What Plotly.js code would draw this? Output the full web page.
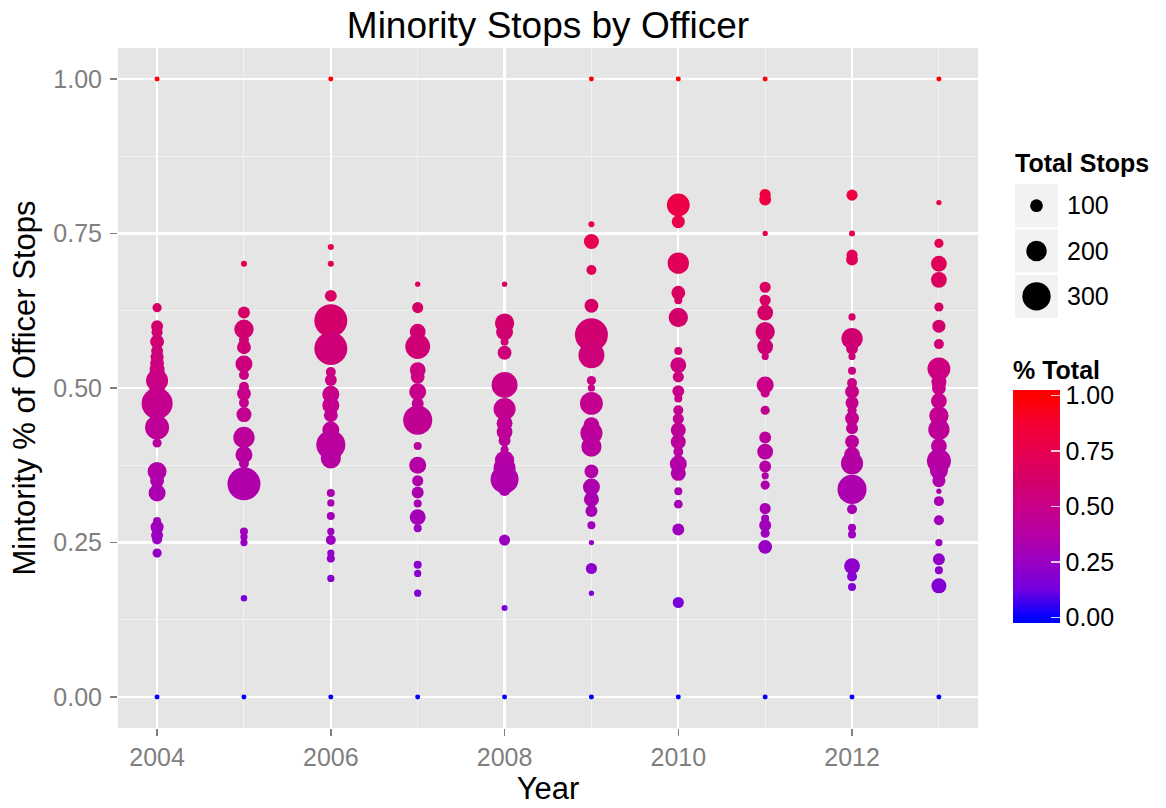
<!DOCTYPE html>
<html>
<head>
<meta charset="utf-8">
<script src="https://cdn.plot.ly/plotly-3.0.1.min.js"></script>
<style>html,body{margin:0;padding:0;background:#fff;}#chart{width:1166px;height:808px;}</style>
</head>
<body>
<div id="chart"></div>
<script>
// ---- data ----
const years = [2004, 2005, 2006, 2007, 2008, 2009, 2010, 2011, 2012, 2013];

const pct2004 = [1.00,0.630,0.600,0.590,0.575,0.560,0.550,0.540,0.530,0.520,0.512,0.500,0.490,0.475,0.460,0.436,0.411,0.365,0.350,0.330,0.285,0.275,0.262,0.255,0.233,0.00];
const stops2004 = [1,55,90,80,115,90,105,115,130,155,220,115,170,335,130,245,55,180,115,155,40,105,90,65,55,1];

const pct2005 = [0.701,0.622,0.595,0.578,0.566,0.539,0.521,0.502,0.491,0.476,0.457,0.420,0.392,0.378,0.345,0.268,0.259,0.250,0.160,0.00];
const stops2005 = [15,90,185,65,115,155,65,65,115,65,130,210,155,65,360,40,30,30,20,1];

const pct2006 = [1.00,0.728,0.701,0.649,0.609,0.564,0.526,0.513,0.490,0.472,0.456,0.432,0.408,0.386,0.330,0.314,0.293,0.268,0.254,0.233,0.224,0.192,0.00];
const stops2006 = [1,15,15,90,360,360,65,90,155,155,115,155,310,195,40,30,40,30,65,30,40,30,1];

const pct2007 = [0.668,0.630,0.591,0.567,0.529,0.518,0.494,0.475,0.448,0.406,0.375,0.350,0.331,0.313,0.291,0.273,0.214,0.200,0.168,0.00];
const stops2007 = [5,80,140,255,140,115,155,90,310,40,155,80,90,40,140,40,40,30,30,1];

const pct2008 = [0.668,0.605,0.591,0.575,0.557,0.505,0.466,0.443,0.429,0.415,0.400,0.383,0.370,0.352,0.335,0.254,0.144,0.00];
const stops2008 = [5,185,155,40,115,270,220,140,140,90,40,185,220,295,90,80,15,1];

const pct2009 = [1.00,0.765,0.737,0.691,0.633,0.586,0.553,0.512,0.500,0.475,0.440,0.427,0.405,0.365,0.340,0.320,0.301,0.278,0.250,0.208,0.168,0.00];
const stops2009 = [1,15,130,65,115,360,270,55,30,230,140,220,195,115,155,130,90,40,5,80,5,1];

const pct2010 = [1.00,0.796,0.769,0.702,0.654,0.642,0.614,0.560,0.537,0.518,0.495,0.483,0.464,0.450,0.432,0.413,0.397,0.377,0.362,0.333,0.312,0.271,0.153,0.00];
const stops2010 = [1,230,105,210,115,40,185,40,140,80,90,40,65,80,130,130,65,155,130,40,50,90,80,1];

const pct2011 = [1.00,0.813,0.805,0.750,0.663,0.642,0.622,0.591,0.567,0.551,0.505,0.492,0.464,0.420,0.397,0.373,0.358,0.343,0.305,0.289,0.278,0.265,0.243,0.00];
const stops2011 = [1,80,90,5,80,80,140,185,140,30,155,55,55,90,140,90,30,55,80,40,90,55,115,1];

const pct2012 = [0.812,0.750,0.715,0.708,0.615,0.580,0.564,0.551,0.528,0.508,0.494,0.476,0.464,0.451,0.435,0.413,0.392,0.378,0.336,0.304,0.274,0.263,0.212,0.195,0.178,0.00];
const stops2012 = [80,15,80,90,30,210,90,30,40,65,115,105,55,115,90,115,140,220,310,65,40,40,140,65,40,1];

const pct2013 = [1.00,0.800,0.734,0.701,0.675,0.631,0.600,0.571,0.531,0.510,0.500,0.479,0.455,0.433,0.406,0.382,0.367,0.350,0.333,0.317,0.286,0.250,0.223,0.205,0.180,0.00];
const stops2013 = [1,5,55,140,140,55,105,65,230,130,115,140,185,210,140,245,170,105,5,65,65,30,90,40,130,1];

const xTickVals = [2004, 2006, 2008, 2010, 2012];
const xTickText = ['2004', '2006', '2008', '2010', '2012'];
const yTickVals = [0, 0.25, 0.5, 0.75, 1];
const yTickText = ['0.00', '0.25', '0.50', '0.75', '1.00'];
const sizeLegendVals = [100, 200, 300];
const sizeLegendText = ['100', '200', '300'];

// ---- build ----
const pctByYear = [pct2004,pct2005,pct2006,pct2007,pct2008,pct2009,pct2010,pct2011,pct2012,pct2013];
const stopsByYear = [stops2004,stops2005,stops2006,stops2007,stops2008,stops2009,stops2010,stops2011,stops2012,stops2013];

function sizeOf(s) { return 4.9 + 0.078 * s; } // linear diameter scale

const X = [], Y = [], S = [];
years.forEach((yr, i) => {
  pctByYear[i].forEach((p, j) => {
    X.push(yr); Y.push(p); S.push(sizeOf(stopsByYear[i][j]));
  });
});

const cmin = -0.025, cmax = 1.025;
const gradStops = [[0,'#0000FF'],[0.125,'#7200E0'],[0.25,'#9A00C2'],[0.375,'#B500A5'],[0.5,'#C90088'],[0.625,'#D40067'],[0.75,'#E80050'],[0.875,'#F40031'],[1,'#FF0000']];
const colorscale = [[0,'#0000FF']].concat(gradStops.map(g => [(g[0]-cmin)/(cmax-cmin), g[1]])).concat([[1,'#FF0000']]);

const W = 1166, H = 808;
const ml = 118, mr = 6, mt = 48, mb = 80;
const pw = W - ml - mr, ph = H - mt - mb;
const px = v => (v - ml) / pw;
const py = v => (H - mb - v) / ph;

const FONT = 'Liberation Sans, Arial, Helvetica, sans-serif';

const main = {
  type: 'scatter', mode: 'markers', x: X, y: Y,
  xaxis: 'x', yaxis: 'y',
  marker: {
    size: S, sizemode: 'diameter', color: Y, colorscale: colorscale,
    cmin: cmin, cmax: cmax, opacity: 1, line: {width: 0},
    colorbar: {
      x: px(1013), xanchor: 'left', xpad: 0,
      y: py(623), yanchor: 'bottom', ypad: 0,
      len: 266, lenmode: 'pixels', thickness: 47,
      outlinewidth: 0,
      tickvals: yTickVals, ticktext: yTickText,
      ticks: 'inside', ticklen: 9, tickcolor: 'rgba(255,255,255,0.8)', tickwidth: 1.5,
      tickfont: {size: 25, color: '#000', family: FONT},
      title: {text: '% Total', side: 'top', font: {size: 25, color: '#000', family: FONT, weight: 'bold'}}
    }
  },
  hoverinfo: 'x+y', showlegend: false
};

const sizeKey = {
  type: 'scatter', mode: 'markers',
  x: sizeLegendVals.map(() => 0),
  y: sizeLegendVals.map((v, i) => sizeLegendVals.length - 1 - i),
  xaxis: 'x2', yaxis: 'y2',
  marker: {size: sizeLegendVals.map(sizeOf), sizemode: 'diameter', color: '#000000', opacity: 1, line: {width: 0}},
  hoverinfo: 'skip', showlegend: false
};

const keyShapes = sizeLegendVals.map((v, i) => {
  const k = sizeLegendVals.length - 1 - i;
  return {type: 'rect', xref: 'x2', yref: 'y2', x0: -0.5, x1: 0.5, y0: k - 0.475, y1: k + 0.475,
          fillcolor: '#F2F2F2', line: {width: 0}, layer: 'below'};
});

const layout = {
  width: W, height: H,
  margin: {l: ml, r: mr, t: mt, b: mb, pad: 0},
  paper_bgcolor: '#FFFFFF', plot_bgcolor: 'rgba(0,0,0,0)',
  font: {family: FONT, color: '#000'},
  title: {text: 'Minority Stops by Officer', x: 548 / W, xref: 'container', xanchor: 'center',
          y: 1 - 25 / H, yref: 'container', yanchor: 'middle',
          font: {size: 37, color: '#000', family: FONT}},
  xaxis: {
    domain: [0, px(978)], range: [2003.55, 2013.45], anchor: 'y',
    tickvals: xTickVals, ticktext: xTickText,
    showgrid: true, gridcolor: '#FFFFFF', gridwidth: 2.2,
    zeroline: false, showline: false,
    ticks: 'outside', ticklen: 7, tickwidth: 1.5, tickcolor: '#7F7F7F',
    tickfont: {size: 25, color: '#7F7F7F', family: FONT},
    minor: {tickvals: [2005, 2007, 2009, 2011, 2013], showgrid: true, gridcolor: '#F2F2F2', gridwidth: 1, ticks: ''},
    title: {text: 'Year', standoff: 6, font: {size: 31, color: '#000', family: FONT}},
    fixedrange: true
  },
  yaxis: {
    domain: [0, 1], range: [-0.05, 1.05], anchor: 'x',
    tickvals: yTickVals, ticktext: yTickText,
    showgrid: true, gridcolor: '#FFFFFF', gridwidth: 2.2,
    zeroline: false, showline: false,
    ticks: 'outside', ticklen: 7, tickwidth: 1.5, tickcolor: '#7F7F7F',
    tickfont: {size: 25, color: '#7F7F7F', family: FONT}, ticklabelstandoff: 3,
    minor: {tickvals: [0.125, 0.375, 0.625, 0.875], showgrid: true, gridcolor: '#F2F2F2', gridwidth: 1, ticks: ''},
    title: {text: 'Mintority % of Officer Stops', standoff: 8, font: {size: 31, color: '#000', family: FONT}},
    fixedrange: true
  },
  xaxis2: {
    domain: [px(1015), px(1058)], range: [-0.5, 0.5], anchor: 'y2',
    showgrid: false, zeroline: false, showline: false, showticklabels: false, ticks: '', fixedrange: true
  },
  yaxis2: {
    domain: [py(319), py(183)], range: [-0.5, 2.5], anchor: 'x2', side: 'right',
    tickvals: [0, 1, 2], ticktext: sizeLegendText.slice().reverse(),
    showgrid: false, zeroline: false, showline: false, ticks: '',
    tickfont: {size: 25, color: '#000', family: FONT}, ticklabelstandoff: 8, fixedrange: true
  },
  shapes: [
    {type: 'rect', xref: 'x domain', yref: 'y domain', x0: 0, x1: 1, y0: 0, y1: 1,
     fillcolor: '#E5E5E5', line: {width: 0}, layer: 'below'}
  ].concat(keyShapes),
  annotations: [
    {text: 'Total Stops', xref: 'paper', yref: 'paper', x: px(1013), y: py(163),
     xanchor: 'left', yanchor: 'middle', showarrow: false,
     font: {size: 25, color: '#000', family: FONT, weight: 'bold'}}
  ]
};

Plotly.newPlot('chart', [main, sizeKey], layout, {displayModeBar: false, staticPlot: true});
</script>
</body>
</html>
